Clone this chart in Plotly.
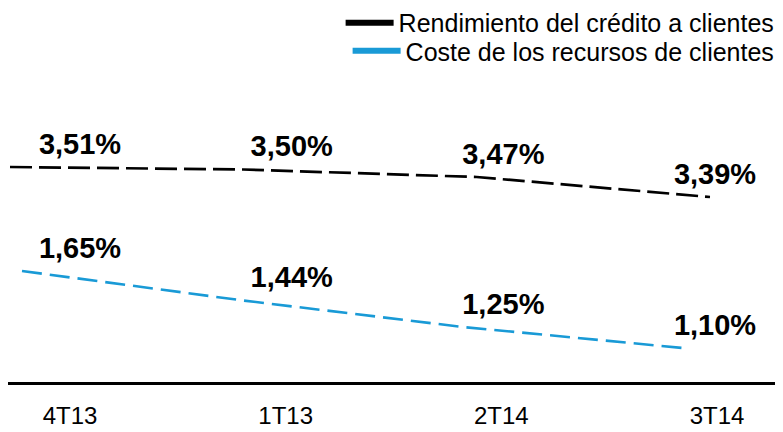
import plotly.graph_objects as go

categories = ["4T13", "1T13", "2T14", "3T14"]
rendimiento = [3.51, 3.50, 3.47, 3.39]
coste = [1.65, 1.44, 1.25, 1.10]
series_names = ["Rendimiento del crédito a clientes", "Coste de los recursos de clientes"]

BLACK = "#000000"
BLUE = "#199ad6"
FONT = "Liberation Sans, Arial, sans-serif"


def fmt(v):
    return f"{v:.2f}".replace(".", ",") + "%"


fig = go.Figure()

# data lines
fig.add_trace(go.Scatter(x=categories, y=rendimiento, mode="lines", xaxis="x2", yaxis="y",
                         line=dict(color=BLACK, width=2.7, dash="22px,7px"), showlegend=False,
                         hoverinfo="skip"))
fig.add_trace(go.Scatter(x=categories, y=coste, mode="lines", xaxis="x3", yaxis="y2",
                         line=dict(color=BLUE, width=2.6, dash="20px,8px"), showlegend=False,
                         hoverinfo="skip"))

# data labels (invisible marker adds a little gap above the value)
label_marker = dict(size=8, opacity=0)
fig.add_trace(go.Scatter(x=categories, y=rendimiento, mode="text+markers", xaxis="x4", yaxis="y",
                         marker=label_marker,
                         text=[fmt(v) for v in rendimiento], textposition="top center",
                         textfont=dict(family=FONT, size=29, color=BLACK, weight="bold"),
                         showlegend=False, hoverinfo="skip"))
fig.add_trace(go.Scatter(x=categories, y=coste, mode="text+markers", xaxis="x4", yaxis="y2",
                         marker=label_marker,
                         text=[fmt(v) for v in coste], textposition="top center",
                         textfont=dict(family=FONT, size=29, color=BLACK, weight="bold"),
                         showlegend=False, hoverinfo="skip"))

# legend entries
fig.add_trace(go.Scatter(x=[None], y=[None], mode="lines", name=series_names[0],
                         line=dict(color=BLACK, width=6), legend="legend"))
fig.add_trace(go.Scatter(x=[None], y=[None], mode="lines", name=series_names[1],
                         line=dict(color=BLUE, width=6), legend="legend2"))

hidden = dict(type="category", categoryorder="array", categoryarray=categories,
              visible=False, overlaying="x", fixedrange=True, automargin=False)

leg = dict(xanchor="right", yanchor="middle", bgcolor="rgba(0,0,0,0)",
           font=dict(size=25, color=BLACK), itemwidth=48)

# page has an 8px body margin: figure sized to fit the 783x432 window
fig.update_layout(
    width=775, height=424,
    margin=dict(l=0, r=3, t=0, b=50, autoexpand=False),
    paper_bgcolor="white", plot_bgcolor="white",
    font=dict(family=FONT, color=BLACK),
    xaxis=dict(type="category", categoryorder="array", categoryarray=categories,
               range=[-0.2875, 3.2921], showgrid=False, zeroline=False,
               showline=True, linecolor=BLACK, linewidth=3, automargin=False,
               ticks="", ticklabelstandoff=10, tickfont=dict(family=FONT, size=24, color=BLACK)),
    xaxis2=dict(hidden, range=[-0.00857, 3.300]),
    xaxis3=dict(hidden, range=[-0.0635, 3.4403]),
    xaxis4=dict(hidden, range=[-0.3402, 3.307]),
    yaxis=dict(range=[2.65, 4.146], visible=False, automargin=False),
    yaxis2=dict(range=[0.857, 3.5286], visible=False, overlaying="y", automargin=False),
    legend=dict(leg, x=0.9995, y=0.9599),
    legend2=dict(leg, x=0.9995, y=0.885),
    showlegend=True,
)

fig.write_html("out.html")
